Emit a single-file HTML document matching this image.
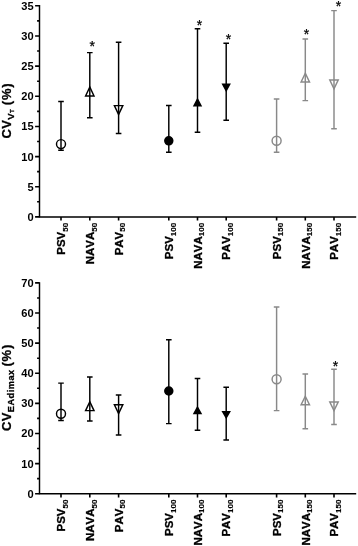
<!DOCTYPE html>
<html><head><meta charset="utf-8"><title>CV chart</title>
<style>html,body{margin:0;padding:0;background:#fff}svg{display:block}</style></head>
<body>
<svg width="358" height="546" viewBox="0 0 358 546" font-family="Liberation Sans, Arial, Helvetica, sans-serif" font-weight="bold" style="font-kerning:none">
<rect width="358" height="546" fill="#fff"/>
<g stroke="#000" stroke-width="1.45" fill="none" stroke-linecap="butt">
<path d="M39.5 5.08V216.90H356.2"/>
<path stroke-width="1.6" d="M35.10 216.90H39.5M37.10 201.82H39.5M35.10 186.74H39.5M37.10 171.66H39.5M35.10 156.59H39.5M37.10 141.51H39.5M35.10 126.43H39.5M37.10 111.35H39.5M35.10 96.27H39.5M37.10 81.19H39.5M35.10 66.11H39.5M37.10 51.04H39.5M35.10 35.96H39.5M37.10 20.88H39.5M35.10 5.80H39.5M61.00 216.90V220.60M89.80 216.90V220.60M118.60 216.90V220.60M168.80 216.90V220.60M197.50 216.90V220.60M226.20 216.90V220.60M276.60 216.90V220.60M305.30 216.90V220.60M334.00 216.90V220.60"/>
</g>
<g font-size="11.1" text-anchor="end" fill="#000">
<text x="33.7" y="220.87">0</text>
<text x="33.7" y="190.72">5</text>
<text x="33.7" y="160.56">10</text>
<text x="33.7" y="130.40">15</text>
<text x="33.7" y="100.25">20</text>
<text x="33.7" y="70.09">25</text>
<text x="33.7" y="39.93">30</text>
<text x="33.7" y="9.77">35</text>
</g>
<g font-size="11.5" text-anchor="end" fill="#000" stroke="#000" stroke-width="0.3">
<text transform="translate(65.20 222.80) rotate(-90)">PSV<tspan font-size="8.0" dy="2.5" stroke-width="0.15">50</tspan></text>
<text transform="translate(94.00 222.80) rotate(-90)">NAVA<tspan font-size="8.0" dy="2.5" stroke-width="0.15">50</tspan></text>
<text transform="translate(122.80 222.80) rotate(-90)">PAV<tspan font-size="8.0" dy="2.5" stroke-width="0.15">50</tspan></text>
<text transform="translate(173.00 222.80) rotate(-90)">PSV<tspan font-size="8.0" dy="2.5" stroke-width="0.15">100</tspan></text>
<text transform="translate(201.70 222.80) rotate(-90)">NAVA<tspan font-size="8.0" dy="2.5" stroke-width="0.15">100</tspan></text>
<text transform="translate(230.40 222.80) rotate(-90)">PAV<tspan font-size="8.0" dy="2.5" stroke-width="0.15">100</tspan></text>
<text transform="translate(280.80 222.80) rotate(-90)">PSV<tspan font-size="8.0" dy="2.5" stroke-width="0.15">150</tspan></text>
<text transform="translate(309.50 222.80) rotate(-90)">NAVA<tspan font-size="8.0" dy="2.5" stroke-width="0.15">150</tspan></text>
<text transform="translate(338.20 222.80) rotate(-90)">PAV<tspan font-size="8.0" dy="2.5" stroke-width="0.15">150</tspan></text>
</g>
<g stroke="#000" stroke-width="1.45" fill="none">
<path d="M61.00 101.50V150.30M58.20 101.50h5.6M58.20 150.30h5.6"/>
<circle cx="61.00" cy="144.10" r="4.5" fill="none"/>
<path d="M89.80 52.60V117.70M87.00 52.60h5.6M87.00 117.70h5.6"/>
<polygon points="89.80,87.00 85.60,96.00 94.00,96.00" fill="none" stroke-linejoin="miter"/>
<path d="M118.60 42.30V133.50M115.80 42.30h5.6M115.80 133.50h5.6"/>
<polygon points="114.40,105.60 122.80,105.60 118.60,114.60" fill="none" stroke-linejoin="miter"/>
</g>
<g stroke="#000" stroke-width="1.45" fill="none">
<path d="M168.80 105.40V152.30M166.00 105.40h5.6M166.00 152.30h5.6"/>
<circle cx="168.80" cy="140.80" r="4.0" fill="#000"/>
<path d="M197.50 28.70V132.30M194.70 28.70h5.6M194.70 132.30h5.6"/>
<polygon points="197.50,99.00 194.00,105.80 201.00,105.80" fill="#000" stroke-linejoin="miter"/>
<path d="M226.20 43.30V120.30M223.40 43.30h5.6M223.40 120.30h5.6"/>
<polygon points="222.70,84.20 229.70,84.20 226.20,90.70" fill="#000" stroke-linejoin="miter"/>
</g>
<g stroke="#898989" stroke-width="1.45" fill="none">
<path d="M276.60 98.90V152.30M273.80 98.90h5.6M273.80 152.30h5.6"/>
<circle cx="276.60" cy="140.80" r="4.5" fill="none"/>
<path d="M305.30 39.00V100.60M302.50 39.00h5.6M302.50 100.60h5.6"/>
<polygon points="305.30,73.20 301.10,82.00 309.50,82.00" fill="none" stroke-linejoin="miter"/>
<path d="M334.00 10.60V128.80M331.20 10.60h5.6M331.20 128.80h5.6"/>
<polygon points="329.80,80.00 338.20,80.00 334.00,88.80" fill="none" stroke-linejoin="miter"/>
</g>
<g font-size="14" text-anchor="middle" fill="#000" font-weight="normal" stroke="#000" stroke-width="0.25">
<text x="92.30" y="51.30">*</text>
<text x="199.60" y="29.50">*</text>
<text x="228.50" y="44.10">*</text>
<text x="306.40" y="38.60">*</text>
<text x="338.40" y="11.20">*</text>
</g>
<g stroke="#000" stroke-width="1.45" fill="none" stroke-linecap="butt">
<path d="M39.5 282.17V493.70H356.2"/>
<path stroke-width="1.6" d="M35.10 493.70H39.5M37.10 478.64H39.5M35.10 463.59H39.5M37.10 448.53H39.5M35.10 433.47H39.5M37.10 418.41H39.5M35.10 403.36H39.5M37.10 388.30H39.5M35.10 373.24H39.5M37.10 358.19H39.5M35.10 343.13H39.5M37.10 328.07H39.5M35.10 313.01H39.5M37.10 297.96H39.5M35.10 282.90H39.5M61.00 493.70V497.40M89.80 493.70V497.40M118.60 493.70V497.40M168.80 493.70V497.40M197.50 493.70V497.40M226.20 493.70V497.40M276.60 493.70V497.40M305.30 493.70V497.40M334.00 493.70V497.40"/>
</g>
<g font-size="11.1" text-anchor="end" fill="#000">
<text x="33.7" y="497.67">0</text>
<text x="33.7" y="467.56">10</text>
<text x="33.7" y="437.45">20</text>
<text x="33.7" y="407.33">30</text>
<text x="33.7" y="377.22">40</text>
<text x="33.7" y="347.10">50</text>
<text x="33.7" y="316.99">60</text>
<text x="33.7" y="286.87">70</text>
</g>
<g font-size="11.5" text-anchor="end" fill="#000" stroke="#000" stroke-width="0.3">
<text transform="translate(65.20 499.60) rotate(-90)">PSV<tspan font-size="8.0" dy="2.5" stroke-width="0.15">50</tspan></text>
<text transform="translate(94.00 499.60) rotate(-90)">NAVA<tspan font-size="8.0" dy="2.5" stroke-width="0.15">50</tspan></text>
<text transform="translate(122.80 499.60) rotate(-90)">PAV<tspan font-size="8.0" dy="2.5" stroke-width="0.15">50</tspan></text>
<text transform="translate(173.00 499.60) rotate(-90)">PSV<tspan font-size="8.0" dy="2.5" stroke-width="0.15">100</tspan></text>
<text transform="translate(201.70 499.60) rotate(-90)">NAVA<tspan font-size="8.0" dy="2.5" stroke-width="0.15">100</tspan></text>
<text transform="translate(230.40 499.60) rotate(-90)">PAV<tspan font-size="8.0" dy="2.5" stroke-width="0.15">100</tspan></text>
<text transform="translate(280.80 499.60) rotate(-90)">PSV<tspan font-size="8.0" dy="2.5" stroke-width="0.15">150</tspan></text>
<text transform="translate(309.50 499.60) rotate(-90)">NAVA<tspan font-size="8.0" dy="2.5" stroke-width="0.15">150</tspan></text>
<text transform="translate(338.20 499.60) rotate(-90)">PAV<tspan font-size="8.0" dy="2.5" stroke-width="0.15">150</tspan></text>
</g>
<g stroke="#000" stroke-width="1.45" fill="none">
<path d="M61.00 383.10V420.40M58.20 383.10h5.6M58.20 420.40h5.6"/>
<circle cx="61.00" cy="413.80" r="4.5" fill="none"/>
<path d="M89.80 376.90V421.00M87.00 376.90h5.6M87.00 421.00h5.6"/>
<polygon points="89.80,401.80 85.60,410.60 94.00,410.60" fill="none" stroke-linejoin="miter"/>
<path d="M118.60 394.90V434.90M115.80 394.90h5.6M115.80 434.90h5.6"/>
<polygon points="114.40,404.80 122.80,404.80 118.60,413.50" fill="none" stroke-linejoin="miter"/>
</g>
<g stroke="#000" stroke-width="1.45" fill="none">
<path d="M168.80 339.70V423.60M166.00 339.70h5.6M166.00 423.60h5.6"/>
<circle cx="168.80" cy="391.00" r="4.0" fill="#000"/>
<path d="M197.50 378.50V430.30M194.70 378.50h5.6M194.70 430.30h5.6"/>
<polygon points="197.50,407.20 194.00,413.50 201.00,413.50" fill="#000" stroke-linejoin="miter"/>
<path d="M226.20 387.20V440.00M223.40 387.20h5.6M223.40 440.00h5.6"/>
<polygon points="222.70,411.60 229.70,411.60 226.20,417.70" fill="#000" stroke-linejoin="miter"/>
</g>
<g stroke="#898989" stroke-width="1.45" fill="none">
<path d="M276.60 307.00V410.60M273.80 307.00h5.6M273.80 410.60h5.6"/>
<circle cx="276.60" cy="379.20" r="4.5" fill="none"/>
<path d="M305.30 373.90V428.80M302.50 373.90h5.6M302.50 428.80h5.6"/>
<polygon points="305.30,396.30 301.10,404.80 309.50,404.80" fill="none" stroke-linejoin="miter"/>
<path d="M334.00 369.20V424.40M331.20 369.20h5.6M331.20 424.40h5.6"/>
<polygon points="329.80,402.00 338.20,402.00 334.00,410.50" fill="none" stroke-linejoin="miter"/>
</g>
<g font-size="14" text-anchor="middle" fill="#000" font-weight="normal" stroke="#000" stroke-width="0.25">
<text x="335.50" y="371.30">*</text>
</g>
<g font-size="13" fill="#000" stroke="#000" stroke-width="0.3" letter-spacing="0.4">
<text transform="translate(11.1 138.6) rotate(-90)">CV<tspan font-size="9.6" dy="2.6">V</tspan><tspan font-size="6.2" dy="0.4">T</tspan><tspan dy="-3.0" dx="-0.8" letter-spacing="0.8"> (%)</tspan></text>
<text transform="translate(11.1 431.0) rotate(-90)">CV<tspan font-size="9.2" dy="3" letter-spacing="0.5">EAdimax</tspan><tspan dy="-3" dx="-1.6" letter-spacing="0.8"> (%)</tspan></text>
</g>
</svg>
</body></html>
